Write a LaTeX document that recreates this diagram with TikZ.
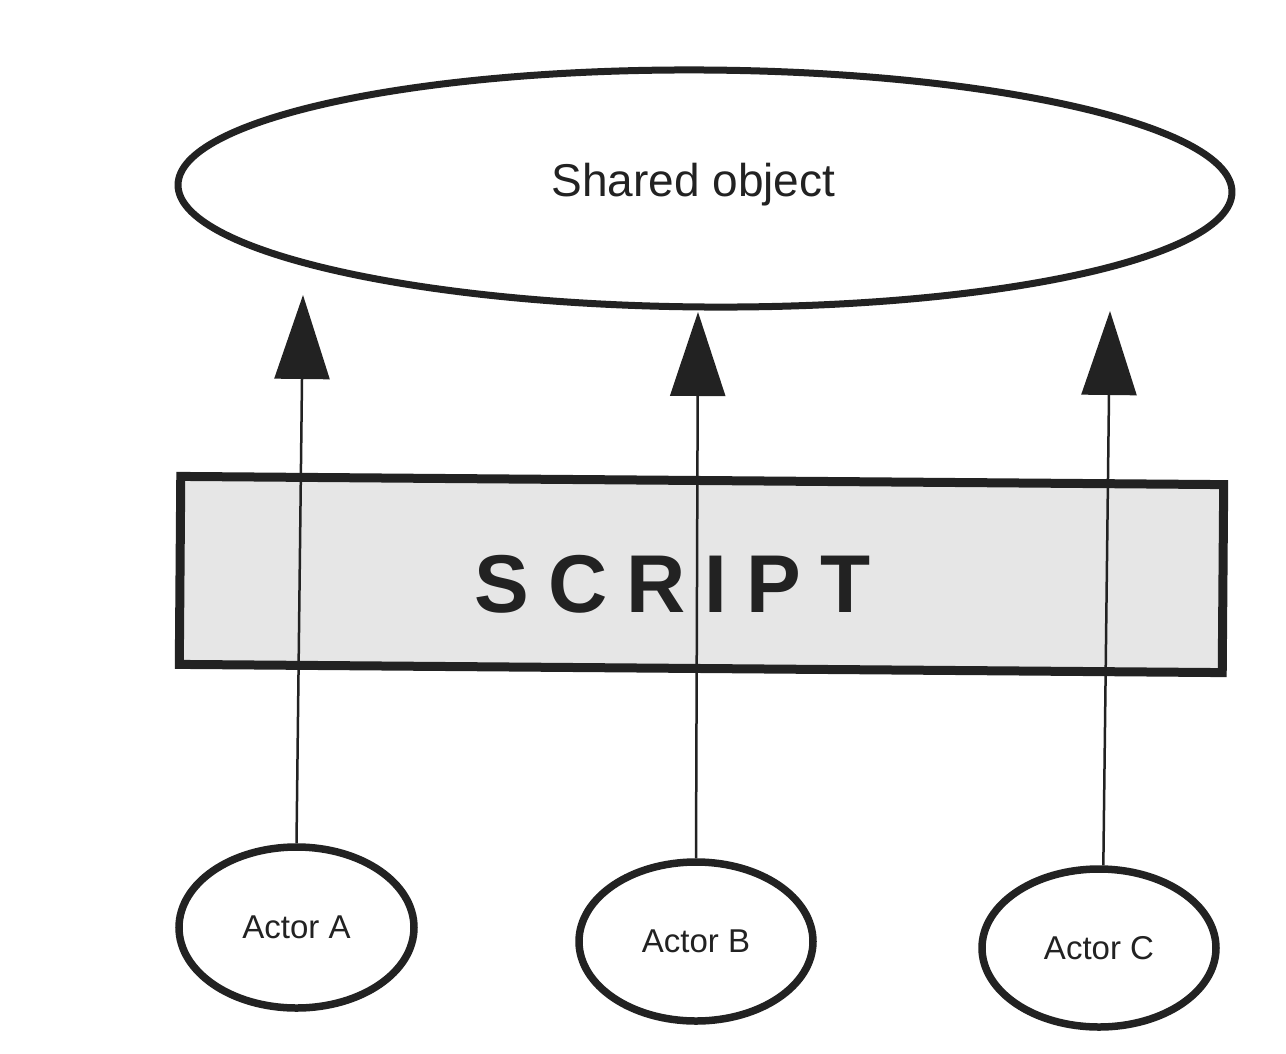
\documentclass[tikz,border=0pt]{standalone}
\usepackage{fontspec}
\setmainfont{Liberation Sans}
\usetikzlibrary{shapes.geometric,arrows.meta}
\definecolor{ink}{HTML}{222222}
\definecolor{scriptfill}{HTML}{E6E6E6}
\begin{document}
\begin{tikzpicture}[x=1pt,y=-1pt,
  outline/.style={draw=ink, line width=7pt},
  actor/.style={ellipse, draw=ink, line width=7.5pt, inner sep=0pt,
    font=\fontsize{33}{36}\selectfont, text=ink},
  flow/.style={draw=ink, line width=2.5pt, -{Triangle[width=55pt,length=84pt]}},
  spaced/.style={font=\fontsize{82}{90}\selectfont\bfseries, text=ink, inner sep=0pt}
]
\fill[white] (0,0) rectangle (1286,1053);
\useasboundingbox (0,0) rectangle (1286,1053);

% shared object at the top
\node[ellipse, outline, minimum width=1054pt, minimum height=237pt,
      inner sep=0pt, rotate=-0.4] (shared) at (705,188.5) {};
\node[font=\fontsize{46}{50}\selectfont, text=ink, anchor=base, inner sep=0pt]
      (sharedlabel) at (693.5,196) {Shared object};

% the script band
\node[draw=ink, line width=9pt, fill=scriptfill, minimum width=1043pt,
      minimum height=188pt, inner sep=0pt, rotate=-0.45] (script) at (701.5,574.5) {};
\newcommand{\gapS}{\hspace{19pt}}
\node[spaced, anchor=base west] (scriptlabel) at (474.5,612)
      {S\gapS C\gapS R\gapS I\gapS P\gapS T};

% actors
\node[actor, minimum width=235pt, minimum height=161pt] (actA) at (296.5,927.5) {Actor A};
\node[actor, minimum width=234pt, minimum height=159pt] (actB) at (696,941.5) {Actor B};
\node[actor, minimum width=234pt, minimum height=158pt] (actC) at (1099,948) {Actor C};

% arrow tips below the shared object
\coordinate (tipA) at (303,295);
\coordinate (tipB) at (698,312);
\coordinate (tipC) at (1110,311);

\draw[flow] (actA.north) -- (tipA);
\draw[flow] (actB.north) -- (tipB);
\draw[flow] (actC.87) -- (tipC);
\end{tikzpicture}
\end{document}
